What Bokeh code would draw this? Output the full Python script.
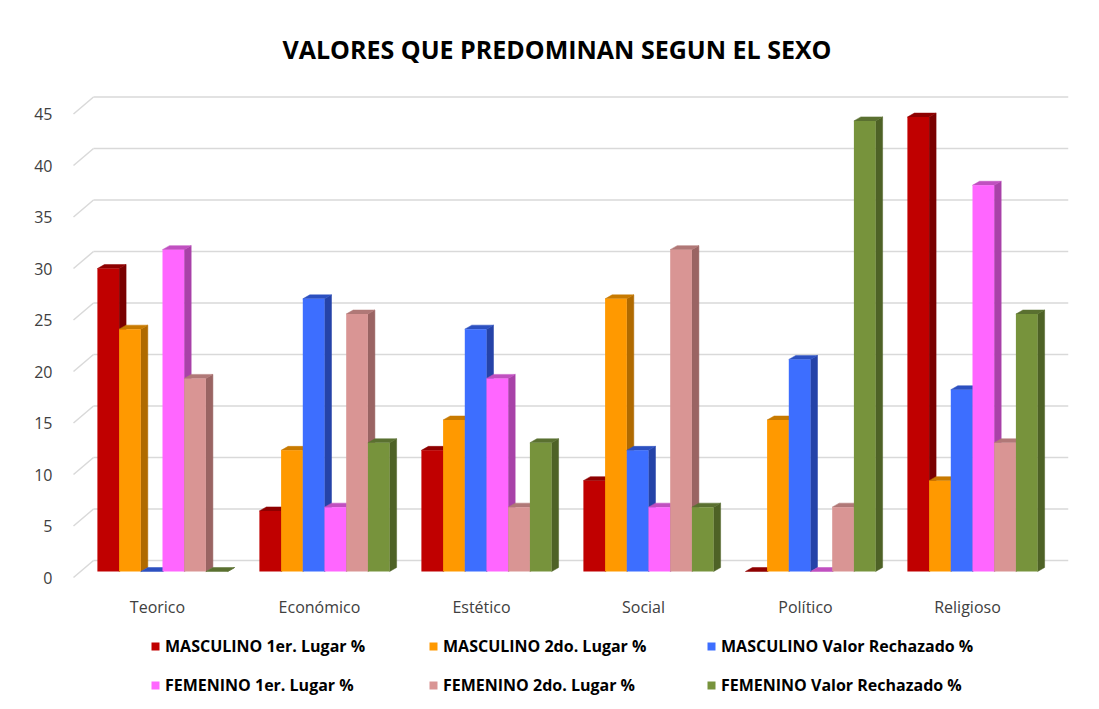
import numpy as np
from bokeh.plotting import figure
from bokeh.models import Range1d, FixedTicker, Legend, LegendItem, ColumnDataSource
from bokeh.embed import file_html
from bokeh.resources import INLINE

# ---------------- data ----------------
categories = ["Teorico", "Económico", "Estético", "Social", "Político", "Religioso"]
series_names = [
    "MASCULINO 1er. Lugar %",
    "MASCULINO 2do. Lugar %",
    "MASCULINO Valor Rechazado %",
    "FEMENINO 1er. Lugar %",
    "FEMENINO 2do. Lugar %",
    "FEMENINO Valor Rechazado %",
]
masc_1er = [29.41, 5.88, 11.76, 8.82, 0.0, 44.12]
masc_2do = [23.53, 11.76, 14.71, 26.47, 14.71, 8.82]
masc_rech = [0.0, 26.47, 23.53, 11.76, 20.59, 17.65]
fem_1er = [31.25, 6.25, 18.75, 6.25, 0.0, 37.5]
fem_2do = [18.75, 25.0, 6.25, 31.25, 6.25, 12.5]
fem_rech = [0.0, 12.5, 12.5, 6.25, 43.75, 25.0]
y_ticks = [0, 5, 10, 15, 20, 25, 30, 35, 40, 45]

series_values = [masc_1er, masc_2do, masc_rech, fem_1er, fem_2do, fem_rech]

# ---------------- styles ----------------
front_colors = ["#C00000", "#FF9900", "#3D6EFF", "#FF66FF", "#D99594", "#77933C"]
side_colors = ["#7A0000", "#B06A00", "#2543A8", "#A842A8", "#9A6463", "#4E6226"]
top_colors = ["#8E0000", "#C87A00", "#2C50C0", "#C050C0", "#B07877", "#5A7030"]

FONT = "Open Sans"
PX_X = 162.0   # pixels per category unit
PX_Y = 10.3    # pixels per value unit

bar_w = 21.7 / PX_X
group_shift = 5.0 / PX_X
depth_dx = 7.0 / PX_X
depth_dy = 4.0 / PX_Y
mid_base = 6.0 / PX_Y
back_dy = 17.0 / PX_Y

W, H = 1083, 700
frame_left, frame_right, frame_top, frame_bottom = 66, 1068, 92, 700
zero_px = 577
x_start = -(157 - frame_left) / PX_X
x_end = (frame_right - 157) / PX_X
y_start = -(frame_bottom - zero_px) / PX_Y
y_end = (zero_px - frame_top) / PX_Y

p = figure(
    width=W, height=H,
    x_range=Range1d(x_start, x_end), y_range=Range1d(y_start, y_end),
    output_backend="svg", toolbar_location=None,
    min_border_left=frame_left, min_border_right=W - frame_right,
    min_border_top=frame_top, min_border_bottom=0,
)
p.outline_line_color = None
p.xgrid.visible = False
p.ygrid.visible = False
p.background_fill_color = "white"
p.border_fill_color = "white"

# title
p.title.text = "VALORES QUE PREDOMINAN SEGUN EL SEXO"
p.title.align = "left"
p.title.offset = 216
p.title.text_font = FONT
p.title.text_font_size = "25px"
p.title.text_font_style = "bold"
p.title.text_color = "#000000"
p.title.standoff = 54

# back-wall gridlines with diagonal connectors
diag_x0 = x_start + 7.0 / PX_X
diag_x1 = x_start + 27.0 / PX_X
grid_src = ColumnDataSource(dict(
    y=[t for t in y_ticks],
    yb=[t + back_dy for t in y_ticks],
    x0=[diag_x0] * len(y_ticks),
    x1=[diag_x1] * len(y_ticks),
    x2=[x_end] * len(y_ticks),
))
p.segment(x0="x1", y0="yb", x1="x2", y1="yb", source=grid_src,
          line_color="#D9D9D9", line_width=1.5)
p.segment(x0="x0", y0="y", x1="x1", y1="yb", source=grid_src,
          line_color="#D9D9D9", line_width=1.5)

# 3D bars
xc = np.arange(len(categories), dtype=float)
n = len(series_values)
legend_items = []
for k, vals in enumerate(series_values):
    vals = np.asarray(vals, dtype=float)
    left = xc + group_shift + (k - n / 2.0) * bar_w
    right = left + bar_w
    bottom = np.full_like(vals, mid_base)
    top = vals + mid_base
    side_xs = [[r, r + depth_dx, r + depth_dx, r] for r in right]
    side_ys = [[b, b + depth_dy, t + depth_dy, t] for b, t in zip(bottom, top)]
    cap_xs = [[l, l + depth_dx, r + depth_dx, r] for l, r in zip(left, right)]
    cap_ys = [[t, t + depth_dy, t + depth_dy, t] for t in top]
    p.patches(xs=side_xs, ys=side_ys, fill_color=side_colors[k], line_color=side_colors[k], line_width=0.5)
    p.patches(xs=cap_xs, ys=cap_ys, fill_color=top_colors[k], line_color=top_colors[k], line_width=0.5)
    r = p.quad(left=left, right=right, bottom=bottom, top=top,
               fill_color=front_colors[k], line_color=None)
    legend_items.append(LegendItem(label=series_names[k], renderers=[r]))

# axes
p.xaxis.fixed_location = 0
p.xaxis.ticker = FixedTicker(ticks=list(range(len(categories))))
p.xaxis.major_label_overrides = {i: c for i, c in enumerate(categories)}
p.xaxis.axis_line_color = None
p.xaxis.major_tick_line_color = None
p.xaxis.minor_tick_line_color = None
p.xaxis.major_label_standoff = 12
p.xaxis.major_label_text_font = FONT
p.xaxis.major_label_text_font_size = "16px"
p.xaxis.major_label_text_color = "#404040"

p.yaxis.ticker = FixedTicker(ticks=y_ticks)
p.yaxis.axis_line_color = None
p.yaxis.major_tick_line_color = None
p.yaxis.minor_tick_line_color = None
p.yaxis.major_label_standoff = 8
p.yaxis.major_label_text_font = FONT
p.yaxis.major_label_text_font_size = "16px"
p.yaxis.major_label_text_color = "#404040"

# legend: two rows of three fixed-width columns
def make_legend(items, loc):
    return Legend(items=items, orientation="horizontal", location=loc,
                  border_line_color=None, background_fill_alpha=0,
                  glyph_width=10, glyph_height=10, label_standoff=5,
                  label_width=250, spacing=13, padding=0, margin=0,
                  label_text_font=FONT, label_text_font_size="16px",
                  label_text_font_style="bold", label_text_color="#000000",
                  label_height=20)

p.add_layout(make_legend(legend_items[:3], (84, frame_bottom - 657)), "center")
p.add_layout(make_legend(legend_items[3:], (84, frame_bottom - 696)), "center")

open("out.html", "w").write(file_html(p, INLINE))
